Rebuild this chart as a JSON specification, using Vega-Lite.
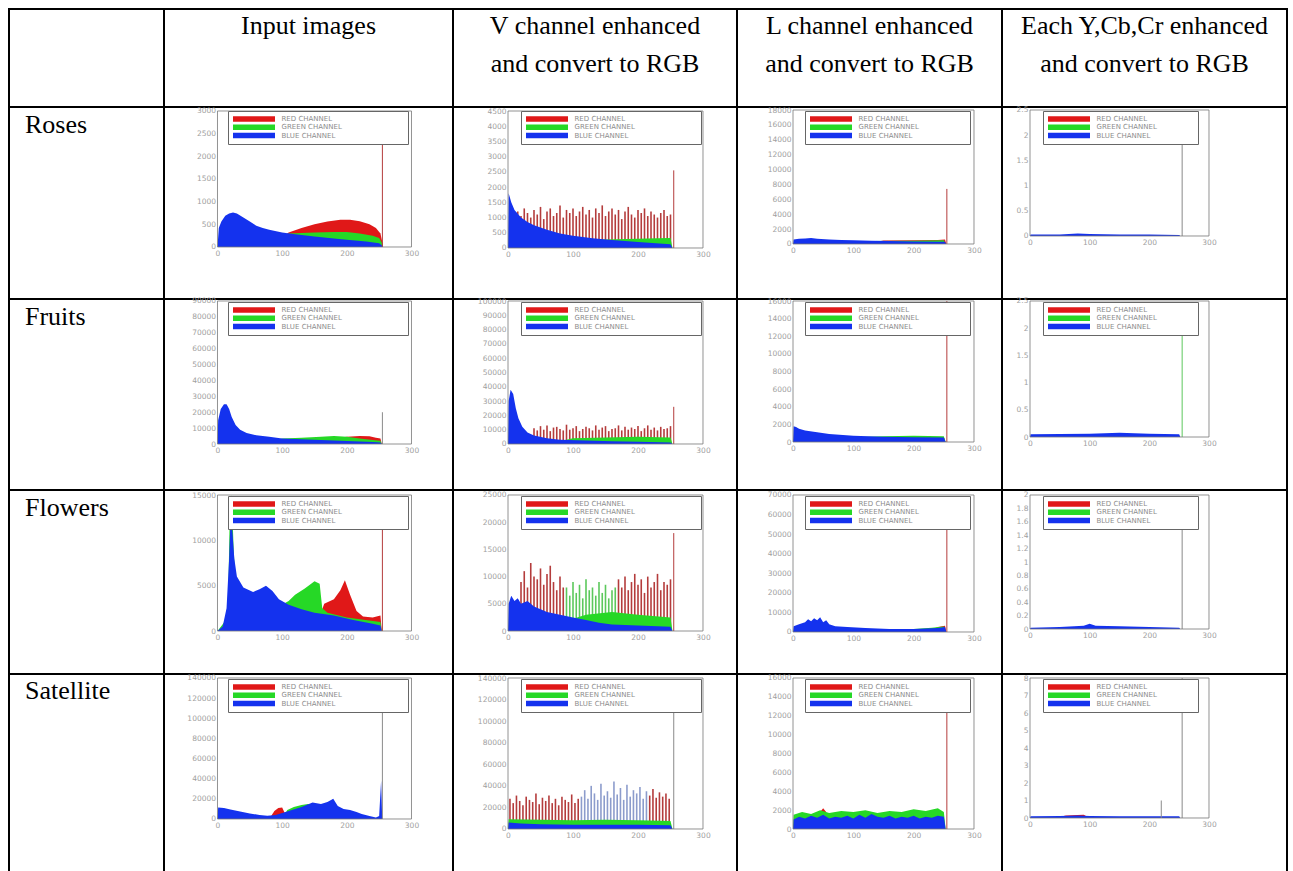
{
"$schema":"https://vega.github.io/schema/vega-lite/v6.json",
"padding":{"left":8,"top":8,"right":0,"bottom":0},
"background":"white",
"config":{
 "view":{"stroke":"black","strokeWidth":2},
 "font":"DejaVu Sans",
 "numberFormat":"d",
 "axis":{"domain":false,"ticks":false,"grid":false,"labelFontSize":7.5,"labelColor":"#a0a0a0","labelFont":"DejaVu Sans","labelPadding":2,"labelOverlap":false,"labelFlush":false},
 "legend":{"symbolType":"M-1,-0.92H13V0.92H-1Z","symbolSize":36,"symbolStrokeWidth":0,"labelFontSize":7,"labelFont":"DejaVu Sans","labelColor":"#8c8c8c","labelOffset":42,"rowPadding":0.3,"padding":4.5,"strokeColor":"#666666","fillColor":"white"}
},
"datasets":{
"r1c1":[
{"x":80,"y":0,"c":"R","t":"a"},{"x":110,"y":320,"c":"R","t":"a"},{"x":130,"y":420,"c":"R","t":"a"},{"x":150,"y":500,"c":"R","t":"a"},{"x":170,"y":560,"c":"R","t":"a"},{"x":190,"y":600,"c":"R","t":"a"},{"x":205,"y":600,"c":"R","t":"a"},{"x":220,"y":570,"c":"R","t":"a"},{"x":235,"y":500,"c":"R","t":"a"},{"x":245,"y":420,"c":"R","t":"a"},{"x":252,"y":300,"c":"R","t":"a"},{"x":255,"y":100,"c":"R","t":"a"},{"x":256,"y":0,"c":"R","t":"a"},
{"x":90,"y":0,"c":"G","t":"a"},{"x":110,"y":300,"c":"G","t":"a"},{"x":150,"y":320,"c":"G","t":"a"},{"x":180,"y":330,"c":"G","t":"a"},{"x":200,"y":330,"c":"G","t":"a"},{"x":220,"y":300,"c":"G","t":"a"},{"x":240,"y":250,"c":"G","t":"a"},{"x":250,"y":200,"c":"G","t":"a"},{"x":254,"y":100,"c":"G","t":"a"},{"x":256,"y":0,"c":"G","t":"a"},
{"x":0,"y":0,"c":"B","t":"a"},{"x":2,"y":420,"c":"B","t":"a"},{"x":6,"y":560,"c":"B","t":"a"},{"x":12,"y":690,"c":"B","t":"a"},{"x":18,"y":740,"c":"B","t":"a"},{"x":24,"y":760,"c":"B","t":"a"},{"x":30,"y":740,"c":"B","t":"a"},{"x":40,"y":650,"c":"B","t":"a"},{"x":50,"y":560,"c":"B","t":"a"},{"x":60,"y":470,"c":"B","t":"a"},{"x":70,"y":420,"c":"B","t":"a"},{"x":80,"y":380,"c":"B","t":"a"},{"x":100,"y":320,"c":"B","t":"a"},{"x":120,"y":280,"c":"B","t":"a"},{"x":150,"y":230,"c":"B","t":"a"},{"x":180,"y":190,"c":"B","t":"a"},{"x":200,"y":160,"c":"B","t":"a"},{"x":230,"y":120,"c":"B","t":"a"},{"x":250,"y":80,"c":"B","t":"a"},{"x":254,"y":40,"c":"B","t":"a"},{"x":256,"y":0,"c":"B","t":"a"},
{"x":255,"y":2800,"c":"R","t":"s"}
],
"r1c2":[
{"x":0,"y":0,"c":"B","t":"a"},{"x":1,"y":1800,"c":"B","t":"a"},{"x":5,"y":1500,"c":"B","t":"a"},{"x":10,"y":1250,"c":"B","t":"a"},{"x":20,"y":1000,"c":"B","t":"a"},{"x":30,"y":850,"c":"B","t":"a"},{"x":40,"y":750,"c":"B","t":"a"},{"x":60,"y":600,"c":"B","t":"a"},{"x":80,"y":480,"c":"B","t":"a"},{"x":100,"y":400,"c":"B","t":"a"},{"x":130,"y":320,"c":"B","t":"a"},{"x":160,"y":260,"c":"B","t":"a"},{"x":200,"y":200,"c":"B","t":"a"},{"x":250,"y":120,"c":"B","t":"a"},{"x":253,"y":0,"c":"B","t":"a"},
{"x":60,"y":0,"c":"G","t":"a"},{"x":100,"y":250,"c":"G","t":"a"},{"x":150,"y":280,"c":"G","t":"a"},{"x":200,"y":300,"c":"G","t":"a"},{"x":230,"y":320,"c":"G","t":"a"},{"x":250,"y":330,"c":"G","t":"a"},{"x":253,"y":0,"c":"G","t":"a"},
{"x":15,"y":1200,"c":"R","t":"c"},{"x":20,"y":1050,"c":"R","t":"c"},{"x":25,"y":1300,"c":"R","t":"c"},{"x":30,"y":1150,"c":"R","t":"c"},{"x":35,"y":1000,"c":"R","t":"c"},{"x":40,"y":1250,"c":"R","t":"c"},{"x":45,"y":1100,"c":"R","t":"c"},{"x":50,"y":1350,"c":"R","t":"c"},{"x":55,"y":950,"c":"R","t":"c"},{"x":60,"y":1200,"c":"R","t":"c"},{"x":65,"y":1300,"c":"R","t":"c"},{"x":70,"y":1050,"c":"R","t":"c"},{"x":75,"y":1150,"c":"R","t":"c"},{"x":80,"y":1400,"c":"R","t":"c"},{"x":85,"y":1000,"c":"R","t":"c"},{"x":90,"y":1250,"c":"R","t":"c"},{"x":95,"y":1150,"c":"R","t":"c"},{"x":100,"y":1300,"c":"R","t":"c"},{"x":105,"y":1050,"c":"R","t":"c"},{"x":110,"y":1200,"c":"R","t":"c"},{"x":115,"y":1350,"c":"R","t":"c"},{"x":120,"y":1100,"c":"R","t":"c"},{"x":125,"y":1250,"c":"R","t":"c"},{"x":130,"y":1000,"c":"R","t":"c"},{"x":135,"y":1300,"c":"R","t":"c"},{"x":140,"y":1150,"c":"R","t":"c"},{"x":145,"y":1400,"c":"R","t":"c"},{"x":150,"y":1050,"c":"R","t":"c"},{"x":155,"y":1200,"c":"R","t":"c"},{"x":160,"y":1300,"c":"R","t":"c"},{"x":165,"y":1100,"c":"R","t":"c"},{"x":170,"y":1250,"c":"R","t":"c"},{"x":175,"y":950,"c":"R","t":"c"},{"x":180,"y":1200,"c":"R","t":"c"},{"x":185,"y":1350,"c":"R","t":"c"},{"x":190,"y":1100,"c":"R","t":"c"},{"x":195,"y":1000,"c":"R","t":"c"},{"x":200,"y":1250,"c":"R","t":"c"},{"x":205,"y":1150,"c":"R","t":"c"},{"x":210,"y":1300,"c":"R","t":"c"},{"x":215,"y":1050,"c":"R","t":"c"},{"x":220,"y":1200,"c":"R","t":"c"},{"x":225,"y":1100,"c":"R","t":"c"},{"x":230,"y":1000,"c":"R","t":"c"},{"x":235,"y":1150,"c":"R","t":"c"},{"x":240,"y":1250,"c":"R","t":"c"},{"x":245,"y":1050,"c":"R","t":"c"},{"x":250,"y":1100,"c":"R","t":"c"},
{"x":255,"y":2550,"c":"R","t":"s"}
],
"r1c3":[
{"x":120,"y":0,"c":"R","t":"a"},{"x":150,"y":480,"c":"R","t":"a"},{"x":200,"y":520,"c":"R","t":"a"},{"x":240,"y":550,"c":"R","t":"a"},{"x":252,"y":600,"c":"R","t":"a"},{"x":254,"y":0,"c":"R","t":"a"},
{"x":100,"y":0,"c":"G","t":"a"},{"x":130,"y":400,"c":"G","t":"a"},{"x":200,"y":450,"c":"G","t":"a"},{"x":250,"y":500,"c":"G","t":"a"},{"x":253,"y":0,"c":"G","t":"a"},
{"x":0,"y":0,"c":"B","t":"a"},{"x":1,"y":600,"c":"B","t":"a"},{"x":10,"y":700,"c":"B","t":"a"},{"x":20,"y":750,"c":"B","t":"a"},{"x":30,"y":800,"c":"B","t":"a"},{"x":40,"y":700,"c":"B","t":"a"},{"x":60,"y":600,"c":"B","t":"a"},{"x":80,"y":550,"c":"B","t":"a"},{"x":100,"y":500,"c":"B","t":"a"},{"x":130,"y":450,"c":"B","t":"a"},{"x":160,"y":400,"c":"B","t":"a"},{"x":200,"y":350,"c":"B","t":"a"},{"x":240,"y":300,"c":"B","t":"a"},{"x":252,"y":300,"c":"B","t":"a"},{"x":254,"y":0,"c":"B","t":"a"},
{"x":255,"y":7400,"c":"R","t":"s"}
],
"r1c4":[
{"x":0,"y":0,"c":"B","t":"a"},{"x":1,"y":0.03,"c":"B","t":"a"},{"x":50,"y":0.03,"c":"B","t":"a"},{"x":80,"y":0.05,"c":"B","t":"a"},{"x":100,"y":0.04,"c":"B","t":"a"},{"x":150,"y":0.03,"c":"B","t":"a"},{"x":200,"y":0.03,"c":"B","t":"a"},{"x":250,"y":0.02,"c":"B","t":"a"},{"x":252,"y":0,"c":"B","t":"a"},
{"x":255,"y":1.85,"c":"K","t":"s"}
],
"r2c1":[
{"x":150,"y":0,"c":"R","t":"a"},{"x":180,"y":3500,"c":"R","t":"a"},{"x":200,"y":4500,"c":"R","t":"a"},{"x":220,"y":5000,"c":"R","t":"a"},{"x":235,"y":4800,"c":"R","t":"a"},{"x":245,"y":4000,"c":"R","t":"a"},{"x":252,"y":3500,"c":"R","t":"a"},{"x":254,"y":0,"c":"R","t":"a"},
{"x":60,"y":0,"c":"G","t":"a"},{"x":100,"y":3500,"c":"G","t":"a"},{"x":130,"y":4000,"c":"G","t":"a"},{"x":160,"y":4500,"c":"G","t":"a"},{"x":180,"y":5000,"c":"G","t":"a"},{"x":200,"y":4500,"c":"G","t":"a"},{"x":220,"y":3500,"c":"G","t":"a"},{"x":240,"y":2500,"c":"G","t":"a"},{"x":252,"y":2000,"c":"G","t":"a"},{"x":254,"y":0,"c":"G","t":"a"},
{"x":0,"y":0,"c":"B","t":"a"},{"x":1,"y":15000,"c":"B","t":"a"},{"x":5,"y":22000,"c":"B","t":"a"},{"x":10,"y":25000,"c":"B","t":"a"},{"x":14,"y":25000,"c":"B","t":"a"},{"x":18,"y":22000,"c":"B","t":"a"},{"x":22,"y":17000,"c":"B","t":"a"},{"x":28,"y":12000,"c":"B","t":"a"},{"x":35,"y":9000,"c":"B","t":"a"},{"x":45,"y":7000,"c":"B","t":"a"},{"x":60,"y":5500,"c":"B","t":"a"},{"x":80,"y":4500,"c":"B","t":"a"},{"x":100,"y":3500,"c":"B","t":"a"},{"x":130,"y":3000,"c":"B","t":"a"},{"x":160,"y":2500,"c":"B","t":"a"},{"x":190,"y":2000,"c":"B","t":"a"},{"x":220,"y":1500,"c":"B","t":"a"},{"x":240,"y":1200,"c":"B","t":"a"},{"x":252,"y":1000,"c":"B","t":"a"},{"x":254,"y":0,"c":"B","t":"a"},
{"x":255,"y":20000,"c":"K","t":"s"}
],
"r2c2":[
{"x":0,"y":0,"c":"B","t":"a"},{"x":1,"y":30000,"c":"B","t":"a"},{"x":4,"y":38000,"c":"B","t":"a"},{"x":8,"y":35000,"c":"B","t":"a"},{"x":12,"y":25000,"c":"B","t":"a"},{"x":16,"y":18000,"c":"B","t":"a"},{"x":22,"y":12000,"c":"B","t":"a"},{"x":30,"y":8000,"c":"B","t":"a"},{"x":40,"y":6000,"c":"B","t":"a"},{"x":60,"y":4000,"c":"B","t":"a"},{"x":80,"y":3000,"c":"B","t":"a"},{"x":120,"y":2500,"c":"B","t":"a"},{"x":160,"y":2000,"c":"B","t":"a"},{"x":200,"y":1500,"c":"B","t":"a"},{"x":250,"y":1000,"c":"B","t":"a"},{"x":253,"y":0,"c":"B","t":"a"},
{"x":60,"y":0,"c":"G","t":"a"},{"x":100,"y":4000,"c":"G","t":"a"},{"x":150,"y":4500,"c":"G","t":"a"},{"x":200,"y":5000,"c":"G","t":"a"},{"x":250,"y":4500,"c":"G","t":"a"},{"x":253,"y":0,"c":"G","t":"a"},
{"x":40,"y":11000,"c":"R","t":"c"},{"x":45,"y":9500,"c":"R","t":"c"},{"x":50,"y":12500,"c":"R","t":"c"},{"x":55,"y":10000,"c":"R","t":"c"},{"x":60,"y":13000,"c":"R","t":"c"},{"x":65,"y":9000,"c":"R","t":"c"},{"x":70,"y":11500,"c":"R","t":"c"},{"x":75,"y":12000,"c":"R","t":"c"},{"x":80,"y":10500,"c":"R","t":"c"},{"x":85,"y":9500,"c":"R","t":"c"},{"x":90,"y":13500,"c":"R","t":"c"},{"x":95,"y":10000,"c":"R","t":"c"},{"x":100,"y":11000,"c":"R","t":"c"},{"x":105,"y":12500,"c":"R","t":"c"},{"x":110,"y":9000,"c":"R","t":"c"},{"x":115,"y":10500,"c":"R","t":"c"},{"x":120,"y":12000,"c":"R","t":"c"},{"x":125,"y":11000,"c":"R","t":"c"},{"x":130,"y":9500,"c":"R","t":"c"},{"x":135,"y":13000,"c":"R","t":"c"},{"x":140,"y":10000,"c":"R","t":"c"},{"x":145,"y":11500,"c":"R","t":"c"},{"x":150,"y":12500,"c":"R","t":"c"},{"x":155,"y":9000,"c":"R","t":"c"},{"x":160,"y":10500,"c":"R","t":"c"},{"x":165,"y":11000,"c":"R","t":"c"},{"x":170,"y":13000,"c":"R","t":"c"},{"x":175,"y":9500,"c":"R","t":"c"},{"x":180,"y":12000,"c":"R","t":"c"},{"x":185,"y":10000,"c":"R","t":"c"},{"x":190,"y":11500,"c":"R","t":"c"},{"x":195,"y":10500,"c":"R","t":"c"},{"x":200,"y":12500,"c":"R","t":"c"},{"x":205,"y":9000,"c":"R","t":"c"},{"x":210,"y":11000,"c":"R","t":"c"},{"x":215,"y":13000,"c":"R","t":"c"},{"x":220,"y":10000,"c":"R","t":"c"},{"x":225,"y":11500,"c":"R","t":"c"},{"x":230,"y":9500,"c":"R","t":"c"},{"x":235,"y":12000,"c":"R","t":"c"},{"x":240,"y":10500,"c":"R","t":"c"},{"x":245,"y":11000,"c":"R","t":"c"},{"x":250,"y":12500,"c":"R","t":"c"},
{"x":255,"y":26000,"c":"R","t":"s"}
],
"r2c3":[
{"x":150,"y":0,"c":"R","t":"a"},{"x":200,"y":500,"c":"R","t":"a"},{"x":250,"y":550,"c":"R","t":"a"},{"x":253,"y":0,"c":"R","t":"a"},
{"x":60,"y":0,"c":"G","t":"a"},{"x":100,"y":550,"c":"G","t":"a"},{"x":150,"y":650,"c":"G","t":"a"},{"x":200,"y":700,"c":"G","t":"a"},{"x":250,"y":650,"c":"G","t":"a"},{"x":253,"y":0,"c":"G","t":"a"},
{"x":0,"y":0,"c":"B","t":"a"},{"x":1,"y":1800,"c":"B","t":"a"},{"x":5,"y":1700,"c":"B","t":"a"},{"x":10,"y":1500,"c":"B","t":"a"},{"x":20,"y":1300,"c":"B","t":"a"},{"x":40,"y":1100,"c":"B","t":"a"},{"x":60,"y":900,"c":"B","t":"a"},{"x":100,"y":700,"c":"B","t":"a"},{"x":150,"y":600,"c":"B","t":"a"},{"x":200,"y":550,"c":"B","t":"a"},{"x":250,"y":500,"c":"B","t":"a"},{"x":253,"y":0,"c":"B","t":"a"},
{"x":255,"y":16000,"c":"R","t":"s"}
],
"r2c4":[
{"x":0,"y":0,"c":"B","t":"a"},{"x":1,"y":0.05,"c":"B","t":"a"},{"x":100,"y":0.06,"c":"B","t":"a"},{"x":150,"y":0.08,"c":"B","t":"a"},{"x":200,"y":0.06,"c":"B","t":"a"},{"x":250,"y":0.05,"c":"B","t":"a"},{"x":252,"y":0,"c":"B","t":"a"},
{"x":255,"y":2.25,"c":"G","t":"s"}
],
"r3c1":[
{"x":150,"y":0,"c":"R","t":"a"},{"x":165,"y":3000,"c":"R","t":"a"},{"x":180,"y":3500,"c":"R","t":"a"},{"x":190,"y":4500,"c":"R","t":"a"},{"x":197,"y":5600,"c":"R","t":"a"},{"x":205,"y":4000,"c":"R","t":"a"},{"x":215,"y":2200,"c":"R","t":"a"},{"x":225,"y":1600,"c":"R","t":"a"},{"x":240,"y":1500,"c":"R","t":"a"},{"x":252,"y":1700,"c":"R","t":"a"},{"x":254,"y":0,"c":"R","t":"a"},
{"x":0,"y":0,"c":"G","t":"a"},{"x":16,"y":1500,"c":"G","t":"a"},{"x":19,"y":13000,"c":"G","t":"a"},{"x":22,"y":15000,"c":"G","t":"a"},{"x":25,"y":9000,"c":"G","t":"a"},{"x":28,"y":5000,"c":"G","t":"a"},{"x":35,"y":3000,"c":"G","t":"a"},{"x":60,"y":2500,"c":"G","t":"a"},{"x":90,"y":2500,"c":"G","t":"a"},{"x":110,"y":3300,"c":"G","t":"a"},{"x":120,"y":4000,"c":"G","t":"a"},{"x":135,"y":4700,"c":"G","t":"a"},{"x":150,"y":5500,"c":"G","t":"a"},{"x":158,"y":5200,"c":"G","t":"a"},{"x":162,"y":2500,"c":"G","t":"a"},{"x":170,"y":2000,"c":"G","t":"a"},{"x":200,"y":1500,"c":"G","t":"a"},{"x":252,"y":1000,"c":"G","t":"a"},{"x":254,"y":0,"c":"G","t":"a"},
{"x":0,"y":0,"c":"B","t":"a"},{"x":8,"y":500,"c":"B","t":"a"},{"x":14,"y":2500,"c":"B","t":"a"},{"x":18,"y":8000,"c":"B","t":"a"},{"x":20,"y":12000,"c":"B","t":"a"},{"x":23,"y":11000,"c":"B","t":"a"},{"x":26,"y":8000,"c":"B","t":"a"},{"x":30,"y":6000,"c":"B","t":"a"},{"x":40,"y":4800,"c":"B","t":"a"},{"x":55,"y":4300,"c":"B","t":"a"},{"x":65,"y":4600,"c":"B","t":"a"},{"x":75,"y":5000,"c":"B","t":"a"},{"x":85,"y":4400,"c":"B","t":"a"},{"x":95,"y":3500,"c":"B","t":"a"},{"x":110,"y":2900,"c":"B","t":"a"},{"x":130,"y":2400,"c":"B","t":"a"},{"x":150,"y":2000,"c":"B","t":"a"},{"x":180,"y":1700,"c":"B","t":"a"},{"x":210,"y":1200,"c":"B","t":"a"},{"x":240,"y":800,"c":"B","t":"a"},{"x":252,"y":600,"c":"B","t":"a"},{"x":254,"y":0,"c":"B","t":"a"},
{"x":255,"y":14000,"c":"R","t":"s"}
],
"r3c2":[
{"x":0,"y":0,"c":"B","t":"a"},{"x":1,"y":5000,"c":"B","t":"a"},{"x":5,"y":6500,"c":"B","t":"a"},{"x":10,"y":5500,"c":"B","t":"a"},{"x":15,"y":6000,"c":"B","t":"a"},{"x":20,"y":5000,"c":"B","t":"a"},{"x":30,"y":5500,"c":"B","t":"a"},{"x":40,"y":4500,"c":"B","t":"a"},{"x":50,"y":4000,"c":"B","t":"a"},{"x":60,"y":3500,"c":"B","t":"a"},{"x":80,"y":3000,"c":"B","t":"a"},{"x":100,"y":2500,"c":"B","t":"a"},{"x":120,"y":2000,"c":"B","t":"a"},{"x":140,"y":1500,"c":"B","t":"a"},{"x":160,"y":1200,"c":"B","t":"a"},{"x":200,"y":1000,"c":"B","t":"a"},{"x":250,"y":800,"c":"B","t":"a"},{"x":253,"y":0,"c":"B","t":"a"},
{"x":60,"y":0,"c":"G","t":"a"},{"x":80,"y":1500,"c":"G","t":"a"},{"x":120,"y":3000,"c":"G","t":"a"},{"x":160,"y":3500,"c":"G","t":"a"},{"x":200,"y":3000,"c":"G","t":"a"},{"x":250,"y":2500,"c":"G","t":"a"},{"x":253,"y":0,"c":"G","t":"a"},
{"x":20,"y":9000,"c":"R","t":"c"},{"x":25,"y":11000,"c":"R","t":"c"},{"x":30,"y":8000,"c":"R","t":"c"},{"x":35,"y":12500,"c":"R","t":"c"},{"x":40,"y":10000,"c":"R","t":"c"},{"x":45,"y":9500,"c":"R","t":"c"},{"x":50,"y":11500,"c":"R","t":"c"},{"x":55,"y":8500,"c":"R","t":"c"},{"x":60,"y":10500,"c":"R","t":"c"},{"x":65,"y":12000,"c":"R","t":"c"},{"x":70,"y":9000,"c":"R","t":"c"},{"x":75,"y":7500,"c":"R","t":"c"},{"x":80,"y":10000,"c":"R","t":"c"},{"x":85,"y":8000,"c":"R","t":"c"},
{"x":90,"y":8000,"c":"G","t":"c"},{"x":95,"y":6500,"c":"G","t":"c"},{"x":100,"y":9000,"c":"G","t":"c"},{"x":105,"y":7000,"c":"G","t":"c"},{"x":110,"y":8500,"c":"G","t":"c"},{"x":115,"y":6000,"c":"G","t":"c"},{"x":120,"y":9500,"c":"G","t":"c"},{"x":125,"y":7500,"c":"G","t":"c"},{"x":130,"y":8000,"c":"G","t":"c"},{"x":135,"y":6500,"c":"G","t":"c"},{"x":140,"y":9000,"c":"G","t":"c"},{"x":145,"y":7000,"c":"G","t":"c"},{"x":150,"y":8500,"c":"G","t":"c"},{"x":155,"y":6000,"c":"G","t":"c"},{"x":160,"y":7500,"c":"G","t":"c"},{"x":165,"y":8000,"c":"G","t":"c"},
{"x":170,"y":9500,"c":"R","t":"c"},{"x":175,"y":8000,"c":"R","t":"c"},{"x":180,"y":10000,"c":"R","t":"c"},{"x":185,"y":7500,"c":"R","t":"c"},{"x":190,"y":9000,"c":"R","t":"c"},{"x":195,"y":10500,"c":"R","t":"c"},{"x":200,"y":8500,"c":"R","t":"c"},{"x":205,"y":9500,"c":"R","t":"c"},{"x":210,"y":7000,"c":"R","t":"c"},{"x":215,"y":10000,"c":"R","t":"c"},{"x":220,"y":8000,"c":"R","t":"c"},{"x":225,"y":9000,"c":"R","t":"c"},{"x":230,"y":10500,"c":"R","t":"c"},{"x":235,"y":7500,"c":"R","t":"c"},{"x":240,"y":9000,"c":"R","t":"c"},{"x":245,"y":8500,"c":"R","t":"c"},{"x":250,"y":9500,"c":"R","t":"c"},
{"x":255,"y":18000,"c":"R","t":"s"}
],
"r3c3":[
{"x":220,"y":0,"c":"R","t":"a"},{"x":240,"y":2500,"c":"R","t":"a"},{"x":252,"y":3200,"c":"R","t":"a"},{"x":254,"y":0,"c":"R","t":"a"},
{"x":150,"y":0,"c":"G","t":"a"},{"x":200,"y":1500,"c":"G","t":"a"},{"x":230,"y":2200,"c":"G","t":"a"},{"x":250,"y":2800,"c":"G","t":"a"},{"x":253,"y":0,"c":"G","t":"a"},
{"x":0,"y":0,"c":"B","t":"a"},{"x":1,"y":3000,"c":"B","t":"a"},{"x":10,"y":4000,"c":"B","t":"a"},{"x":20,"y":5000,"c":"B","t":"a"},{"x":25,"y":6500,"c":"B","t":"a"},{"x":30,"y":5500,"c":"B","t":"a"},{"x":35,"y":7000,"c":"B","t":"a"},{"x":40,"y":6000,"c":"B","t":"a"},{"x":45,"y":7500,"c":"B","t":"a"},{"x":50,"y":5000,"c":"B","t":"a"},{"x":55,"y":6000,"c":"B","t":"a"},{"x":60,"y":4000,"c":"B","t":"a"},{"x":70,"y":3000,"c":"B","t":"a"},{"x":90,"y":2500,"c":"B","t":"a"},{"x":120,"y":2000,"c":"B","t":"a"},{"x":160,"y":1500,"c":"B","t":"a"},{"x":200,"y":1500,"c":"B","t":"a"},{"x":240,"y":2000,"c":"B","t":"a"},{"x":252,"y":2500,"c":"B","t":"a"},{"x":254,"y":0,"c":"B","t":"a"},
{"x":255,"y":68000,"c":"R","t":"s"}
],
"r3c4":[
{"x":0,"y":0,"c":"B","t":"a"},{"x":1,"y":0.02,"c":"B","t":"a"},{"x":50,"y":0.03,"c":"B","t":"a"},{"x":90,"y":0.05,"c":"B","t":"a"},{"x":100,"y":0.08,"c":"B","t":"a"},{"x":110,"y":0.05,"c":"B","t":"a"},{"x":150,"y":0.04,"c":"B","t":"a"},{"x":200,"y":0.03,"c":"B","t":"a"},{"x":250,"y":0.02,"c":"B","t":"a"},{"x":252,"y":0,"c":"B","t":"a"},
{"x":255,"y":1.95,"c":"K","t":"s"}
],
"r4c1":[
{"x":80,"y":0,"c":"R","t":"a"},{"x":88,"y":8000,"c":"R","t":"a"},{"x":94,"y":11000,"c":"R","t":"a"},{"x":100,"y":11500,"c":"R","t":"a"},{"x":104,"y":6000,"c":"R","t":"a"},{"x":108,"y":0,"c":"R","t":"a"},
{"x":100,"y":0,"c":"G","t":"a"},{"x":108,"y":9000,"c":"G","t":"a"},{"x":118,"y":12000,"c":"G","t":"a"},{"x":130,"y":14000,"c":"G","t":"a"},{"x":140,"y":15000,"c":"G","t":"a"},{"x":148,"y":14000,"c":"G","t":"a"},{"x":152,"y":0,"c":"G","t":"a"},
{"x":0,"y":0,"c":"B","t":"a"},{"x":1,"y":11500,"c":"B","t":"a"},{"x":10,"y":11000,"c":"B","t":"a"},{"x":20,"y":9500,"c":"B","t":"a"},{"x":35,"y":7500,"c":"B","t":"a"},{"x":50,"y":5500,"c":"B","t":"a"},{"x":65,"y":4000,"c":"B","t":"a"},{"x":77,"y":3300,"c":"B","t":"a"},{"x":90,"y":4000,"c":"B","t":"a"},{"x":100,"y":6000,"c":"B","t":"a"},{"x":115,"y":9000,"c":"B","t":"a"},{"x":130,"y":12000,"c":"B","t":"a"},{"x":147,"y":16500,"c":"B","t":"a"},{"x":160,"y":15000,"c":"B","t":"a"},{"x":170,"y":17000,"c":"B","t":"a"},{"x":179,"y":20000,"c":"B","t":"a"},{"x":186,"y":13000,"c":"B","t":"a"},{"x":195,"y":10000,"c":"B","t":"a"},{"x":205,"y":9000,"c":"B","t":"a"},{"x":215,"y":7000,"c":"B","t":"a"},{"x":223,"y":5000,"c":"B","t":"a"},{"x":235,"y":3000,"c":"B","t":"a"},{"x":245,"y":1500,"c":"B","t":"a"},{"x":250,"y":3000,"c":"B","t":"a"},{"x":253,"y":38000,"c":"B","t":"a"},{"x":254.5,"y":5000,"c":"B","t":"a"},{"x":255,"y":0,"c":"B","t":"a"},
{"x":255,"y":110000,"c":"K","t":"s"}
],
"r4c2":[
{"x":0,"y":0,"c":"G","t":"a"},{"x":1,"y":9000,"c":"G","t":"a"},{"x":50,"y":8500,"c":"G","t":"a"},{"x":100,"y":8000,"c":"G","t":"a"},{"x":150,"y":8500,"c":"G","t":"a"},{"x":200,"y":8000,"c":"G","t":"a"},{"x":250,"y":7500,"c":"G","t":"a"},{"x":253,"y":0,"c":"G","t":"a"},
{"x":0,"y":0,"c":"B","t":"a"},{"x":1,"y":6000,"c":"B","t":"a"},{"x":20,"y":5000,"c":"B","t":"a"},{"x":50,"y":4500,"c":"B","t":"a"},{"x":100,"y":4000,"c":"B","t":"a"},{"x":150,"y":4000,"c":"B","t":"a"},{"x":200,"y":4000,"c":"B","t":"a"},{"x":250,"y":3500,"c":"B","t":"a"},{"x":253,"y":0,"c":"B","t":"a"},
{"x":3,"y":28000,"c":"R","t":"c"},{"x":8,"y":24000,"c":"R","t":"c"},{"x":13,"y":31000,"c":"R","t":"c"},{"x":18,"y":26000,"c":"R","t":"c"},{"x":23,"y":22000,"c":"R","t":"c"},{"x":28,"y":30000,"c":"R","t":"c"},{"x":33,"y":27000,"c":"R","t":"c"},{"x":38,"y":25000,"c":"R","t":"c"},{"x":43,"y":33000,"c":"R","t":"c"},{"x":48,"y":23000,"c":"R","t":"c"},{"x":53,"y":29000,"c":"R","t":"c"},{"x":58,"y":26000,"c":"R","t":"c"},{"x":63,"y":31000,"c":"R","t":"c"},{"x":68,"y":24000,"c":"R","t":"c"},{"x":73,"y":28000,"c":"R","t":"c"},{"x":78,"y":22000,"c":"R","t":"c"},{"x":83,"y":30000,"c":"R","t":"c"},{"x":88,"y":27000,"c":"R","t":"c"},{"x":93,"y":25000,"c":"R","t":"c"},{"x":98,"y":32000,"c":"R","t":"c"},{"x":103,"y":24000,"c":"R","t":"c"},{"x":108,"y":28000,"c":"R","t":"c"},
{"x":113,"y":30000,"c":"B","t":"c"},{"x":118,"y":36000,"c":"B","t":"c"},{"x":123,"y":28000,"c":"B","t":"c"},{"x":128,"y":40000,"c":"B","t":"c"},{"x":133,"y":33000,"c":"B","t":"c"},{"x":138,"y":27000,"c":"B","t":"c"},{"x":143,"y":42000,"c":"B","t":"c"},{"x":148,"y":31000,"c":"B","t":"c"},{"x":153,"y":35000,"c":"B","t":"c"},{"x":158,"y":29000,"c":"B","t":"c"},{"x":163,"y":44000,"c":"B","t":"c"},{"x":168,"y":32000,"c":"B","t":"c"},{"x":173,"y":38000,"c":"B","t":"c"},{"x":178,"y":27000,"c":"B","t":"c"},{"x":183,"y":41000,"c":"B","t":"c"},{"x":188,"y":30000,"c":"B","t":"c"},{"x":193,"y":36000,"c":"B","t":"c"},{"x":198,"y":33000,"c":"B","t":"c"},{"x":203,"y":39000,"c":"B","t":"c"},{"x":208,"y":28000,"c":"B","t":"c"},{"x":213,"y":35000,"c":"B","t":"c"},
{"x":218,"y":31000,"c":"R","t":"c"},{"x":223,"y":37000,"c":"R","t":"c"},{"x":228,"y":29000,"c":"R","t":"c"},{"x":233,"y":34000,"c":"R","t":"c"},{"x":238,"y":30000,"c":"R","t":"c"},{"x":243,"y":33000,"c":"R","t":"c"},{"x":248,"y":28000,"c":"R","t":"c"},
{"x":255,"y":130000,"c":"K","t":"s"}
],
"r4c3":[
{"x":40,"y":0,"c":"R","t":"a"},{"x":45,"y":1800,"c":"R","t":"a"},{"x":50,"y":2200,"c":"R","t":"a"},{"x":55,"y":1800,"c":"R","t":"a"},{"x":60,"y":0,"c":"R","t":"a"},
{"x":0,"y":0,"c":"G","t":"a"},{"x":1,"y":1500,"c":"G","t":"a"},{"x":15,"y":1800,"c":"G","t":"a"},{"x":30,"y":1600,"c":"G","t":"a"},{"x":45,"y":2000,"c":"G","t":"a"},{"x":60,"y":1700,"c":"G","t":"a"},{"x":80,"y":1900,"c":"G","t":"a"},{"x":100,"y":1800,"c":"G","t":"a"},{"x":120,"y":2000,"c":"G","t":"a"},{"x":140,"y":1700,"c":"G","t":"a"},{"x":160,"y":1900,"c":"G","t":"a"},{"x":180,"y":1800,"c":"G","t":"a"},{"x":200,"y":2100,"c":"G","t":"a"},{"x":220,"y":1900,"c":"G","t":"a"},{"x":240,"y":2200,"c":"G","t":"a"},{"x":250,"y":1800,"c":"G","t":"a"},{"x":253,"y":0,"c":"G","t":"a"},
{"x":0,"y":0,"c":"B","t":"a"},{"x":1,"y":1000,"c":"B","t":"a"},{"x":10,"y":1300,"c":"B","t":"a"},{"x":20,"y":1100,"c":"B","t":"a"},{"x":30,"y":1400,"c":"B","t":"a"},{"x":40,"y":1200,"c":"B","t":"a"},{"x":50,"y":1500,"c":"B","t":"a"},{"x":60,"y":1100,"c":"B","t":"a"},{"x":70,"y":1300,"c":"B","t":"a"},{"x":80,"y":1200,"c":"B","t":"a"},{"x":90,"y":1400,"c":"B","t":"a"},{"x":100,"y":1100,"c":"B","t":"a"},{"x":110,"y":1500,"c":"B","t":"a"},{"x":120,"y":1200,"c":"B","t":"a"},{"x":130,"y":1600,"c":"B","t":"a"},{"x":140,"y":1300,"c":"B","t":"a"},{"x":150,"y":1200,"c":"B","t":"a"},{"x":160,"y":1400,"c":"B","t":"a"},{"x":170,"y":1100,"c":"B","t":"a"},{"x":180,"y":1300,"c":"B","t":"a"},{"x":190,"y":1200,"c":"B","t":"a"},{"x":200,"y":1400,"c":"B","t":"a"},{"x":210,"y":1100,"c":"B","t":"a"},{"x":220,"y":1300,"c":"B","t":"a"},{"x":230,"y":1200,"c":"B","t":"a"},{"x":240,"y":1400,"c":"B","t":"a"},{"x":250,"y":1300,"c":"B","t":"a"},{"x":253,"y":0,"c":"B","t":"a"},
{"x":255,"y":13000,"c":"R","t":"s"}
],
"r4c4":[
{"x":40,"y":0,"c":"R","t":"a"},{"x":60,"y":0.15,"c":"R","t":"a"},{"x":90,"y":0.18,"c":"R","t":"a"},{"x":100,"y":0,"c":"R","t":"a"},
{"x":0,"y":0,"c":"B","t":"a"},{"x":1,"y":0.1,"c":"B","t":"a"},{"x":50,"y":0.12,"c":"B","t":"a"},{"x":80,"y":0.15,"c":"B","t":"a"},{"x":100,"y":0.12,"c":"B","t":"a"},{"x":150,"y":0.1,"c":"B","t":"a"},{"x":200,"y":0.1,"c":"B","t":"a"},{"x":250,"y":0.1,"c":"B","t":"a"},{"x":252,"y":0,"c":"B","t":"a"},
{"x":220,"y":1.0,"c":"K","t":"s"},{"x":255,"y":8,"c":"K","t":"s"}
]
},
"concat":[
 {"width":155,"height":98,"data":{"values":[{"t":" "}]},"mark":{"type":"text","font":"Liberation Serif","fontSize":26,"baseline":"alphabetic","dy":25.3,"color":"black"},"encoding":{"text":{"field":"t"},"x":{"datum":0.5,"type":"quantitative","scale":{"domain":[0,1]},"axis":null},"y":{"datum":1,"type":"quantitative","scale":{"domain":[0,1]},"axis":null}}},
 {"width":289,"height":98,"data":{"values":[{"t":"Input images"}]},"mark":{"type":"text","font":"Liberation Serif","fontSize":26,"baseline":"alphabetic","lineBreak":"\n","lineHeight":38,"dy":25.3,"color":"black"},"encoding":{"text":{"field":"t"},"x":{"datum":0.5,"type":"quantitative","scale":{"domain":[0,1]},"axis":null},"y":{"datum":1,"type":"quantitative","scale":{"domain":[0,1]},"axis":null}}},
 {"width":284,"height":98,"data":{"values":[{"t":"V channel enhanced\nand convert to RGB"}]},"mark":{"type":"text","font":"Liberation Serif","fontSize":26,"baseline":"alphabetic","lineBreak":"\n","lineHeight":38,"dy":25.3,"color":"black"},"encoding":{"text":{"field":"t"},"x":{"datum":0.5,"type":"quantitative","scale":{"domain":[0,1]},"axis":null},"y":{"datum":1,"type":"quantitative","scale":{"domain":[0,1]},"axis":null}}},
 {"width":265,"height":98,"data":{"values":[{"t":"L channel enhanced\nand convert to RGB"}]},"mark":{"type":"text","font":"Liberation Serif","fontSize":26,"baseline":"alphabetic","lineBreak":"\n","lineHeight":38,"dy":25.3,"color":"black"},"encoding":{"text":{"field":"t"},"x":{"datum":0.5,"type":"quantitative","scale":{"domain":[0,1]},"axis":null},"y":{"datum":1,"type":"quantitative","scale":{"domain":[0,1]},"axis":null}}},
 {"width":285,"height":98,"data":{"values":[{"t":"Each Y,Cb,Cr enhanced\nand convert to RGB"}]},"mark":{"type":"text","font":"Liberation Serif","fontSize":26,"baseline":"alphabetic","lineBreak":"\n","lineHeight":38,"dy":25.3,"color":"black"},"encoding":{"text":{"field":"t"},"x":{"datum":0.5,"type":"quantitative","scale":{"domain":[0,1]},"axis":null},"y":{"datum":1,"type":"quantitative","scale":{"domain":[0,1]},"axis":null}}},

 {"width":155,"height":192,"data":{"values":[{"t":"Roses"}]},"mark":{"type":"text","font":"Liberation Serif","fontSize":26,"align":"left","baseline":"alphabetic","dx":16,"dy":26,"color":"black"},"encoding":{"text":{"field":"t"},"x":{"datum":0,"type":"quantitative","scale":{"domain":[0,1]},"axis":null},"y":{"datum":1,"type":"quantitative","scale":{"domain":[0,1]},"axis":null}}},
 {"width":289,"height":192,"data":{"name":"r1c1"},"layer":[
  {"transform":[{"filter":"datum.t=='a'&&datum.c=='R'"}],"mark":"area","encoding":{"x":{"field":"x","type":"quantitative","title":null,"scale":{"domain":[-82.73,364.18],"nice":false,"zero":false},"axis":{"values":[0,100,200,300],"offset":-52}},"y":{"field":"y","type":"quantitative","title":null,"scale":{"domain":[-1147.1,3088.2],"nice":false,"zero":false},"axis":{"values":[0,500,1000,1500,2000,2500,3000],"tickCount":50,"offset":-53.5}},"y2":{"datum":0},"color":{"field":"c","type":"nominal","scale":{"domain":["R","G","B"],"range":["#e01818","#26d826","#1432ee"]},"legend":{"orient":"none","legendX":64,"legendY":4,"title":null,"labelExpr":"(datum.label=='R'?'RED CHANNEL':datum.label=='G'?'GREEN CHANNEL':'BLUE CHANNEL')+'\u2800\u2800\u2800\u2800\u2800\u2800\u2800\u2800\u2800\u2800\u2800\u2800'"}}}},
  {"transform":[{"filter":"datum.t=='a'&&datum.c=='G'"}],"mark":"area","encoding":{"x":{"field":"x","type":"quantitative","title":null},"y":{"field":"y","type":"quantitative","title":null},"y2":{"datum":0},"color":{"field":"c","type":"nominal","legend":null}}},
  {"transform":[{"filter":"datum.t=='a'&&datum.c=='B'"}],"mark":"area","encoding":{"x":{"field":"x","type":"quantitative","title":null},"y":{"field":"y","type":"quantitative","title":null},"y2":{"datum":0},"color":{"field":"c","type":"nominal","legend":null}}},
  {"transform":[{"filter":"datum.t=='s'"}],"mark":{"type":"rule","strokeWidth":1},"encoding":{"x":{"field":"x","type":"quantitative","title":null},"y":{"field":"y","type":"quantitative","title":null},"y2":{"datum":0},"stroke":{"field":"c","type":"nominal","scale":{"domain":["R","G","B","K"],"range":["#b43c3c","#5cc85c","#8c9ccc","#8a8a8a"]},"legend":null}}},
  {"data":{"values":[{}]},"mark":{"type":"rect","fill":"transparent","stroke":"#777777","strokeWidth":0.8},"encoding":{"x":{"datum":0},"x2":{"datum":300},"y":{"datum":0},"y2":{"datum":3000}}}
 ]},
 {"width":284,"height":192,"data":{"name":"r1c2"},"layer":[
  {"transform":[{"filter":"datum.t=='a'&&datum.c=='R'"}],"mark":"area","encoding":{"x":{"field":"x","type":"quantitative","title":null,"scale":{"domain":[-84.62,352.31],"nice":false,"zero":false},"axis":{"values":[0,100,200,300],"offset":-51}},"y":{"field":"y","type":"quantitative","title":null,"scale":{"domain":[-1675.2,4631.4],"nice":false,"zero":false},"axis":{"values":[0,500,1000,1500,2000,2500,3000,3500,4000,4500],"tickCount":50,"offset":-55}},"y2":{"datum":0},"color":{"field":"c","type":"nominal","scale":{"domain":["R","G","B"],"range":["#e01818","#26d826","#1432ee"]},"legend":{"orient":"none","legendX":68,"legendY":4,"title":null,"labelExpr":"(datum.label=='R'?'RED CHANNEL':datum.label=='G'?'GREEN CHANNEL':'BLUE CHANNEL')+'\u2800\u2800\u2800\u2800\u2800\u2800\u2800\u2800\u2800\u2800\u2800\u2800'"}}}},
  {"transform":[{"filter":"datum.t=='c'"}],"mark":{"type":"rule","strokeWidth":1.6},"encoding":{"x":{"field":"x","type":"quantitative","title":null},"y":{"field":"y","type":"quantitative","title":null},"y2":{"datum":0},"stroke":{"field":"c","type":"nominal","scale":{"domain":["R","G","B","K"],"range":["#b43c3c","#5cc85c","#8c9ccc","#8a8a8a"]},"legend":null}}},
  {"transform":[{"filter":"datum.t=='a'&&datum.c=='G'"}],"mark":"area","encoding":{"x":{"field":"x","type":"quantitative","title":null},"y":{"field":"y","type":"quantitative","title":null},"y2":{"datum":0},"color":{"field":"c","type":"nominal","legend":null}}},
  {"transform":[{"filter":"datum.t=='a'&&datum.c=='B'"}],"mark":"area","encoding":{"x":{"field":"x","type":"quantitative","title":null},"y":{"field":"y","type":"quantitative","title":null},"y2":{"datum":0},"color":{"field":"c","type":"nominal","legend":null}}},
  {"transform":[{"filter":"datum.t=='s'"}],"mark":{"type":"rule","strokeWidth":1},"encoding":{"x":{"field":"x","type":"quantitative","title":null},"y":{"field":"y","type":"quantitative","title":null},"y2":{"datum":0},"stroke":{"field":"c","type":"nominal","scale":{"domain":["R","G","B","K"],"range":["#b43c3c","#5cc85c","#8c9ccc","#8a8a8a"]},"legend":null}}},
  {"data":{"values":[{}]},"mark":{"type":"rect","fill":"transparent","stroke":"#777777","strokeWidth":0.8},"encoding":{"x":{"datum":0},"x2":{"datum":300},"y":{"datum":0},"y2":{"datum":4500}}}
 ]},
 {"width":265,"height":192,"data":{"name":"r1c3"},"layer":[
  {"transform":[{"filter":"datum.t=='a'&&datum.c=='R'"}],"mark":"area","encoding":{"x":{"field":"x","type":"quantitative","title":null,"scale":{"domain":[-92.82,346.41],"nice":false,"zero":false},"axis":{"values":[0,100,200,300],"offset":-55}},"y":{"field":"y","type":"quantitative","title":null,"scale":{"domain":[-7388.1,18403],"nice":false,"zero":false},"axis":{"values":[0,2000,4000,6000,8000,10000,12000,14000,16000,18000],"tickCount":50,"offset":-56}},"y2":{"datum":0},"color":{"field":"c","type":"nominal","scale":{"domain":["R","G","B"],"range":["#e01818","#26d826","#1432ee"]},"legend":{"orient":"none","legendX":68,"legendY":4,"title":null,"labelExpr":"(datum.label=='R'?'RED CHANNEL':datum.label=='G'?'GREEN CHANNEL':'BLUE CHANNEL')+'\u2800\u2800\u2800\u2800\u2800\u2800\u2800\u2800\u2800'"}}}},
  {"transform":[{"filter":"datum.t=='a'&&datum.c=='G'"}],"mark":"area","encoding":{"x":{"field":"x","type":"quantitative","title":null},"y":{"field":"y","type":"quantitative","title":null},"y2":{"datum":0},"color":{"field":"c","type":"nominal","legend":null}}},
  {"transform":[{"filter":"datum.t=='a'&&datum.c=='B'"}],"mark":"area","encoding":{"x":{"field":"x","type":"quantitative","title":null},"y":{"field":"y","type":"quantitative","title":null},"y2":{"datum":0},"color":{"field":"c","type":"nominal","legend":null}}},
  {"transform":[{"filter":"datum.t=='s'"}],"mark":{"type":"rule","strokeWidth":1},"encoding":{"x":{"field":"x","type":"quantitative","title":null},"y":{"field":"y","type":"quantitative","title":null},"y2":{"datum":0},"stroke":{"field":"c","type":"nominal","scale":{"domain":["R","G","B","K"],"range":["#b43c3c","#5cc85c","#8c9ccc","#8a8a8a"]},"legend":null}}},
  {"data":{"values":[{}]},"mark":{"type":"rect","fill":"transparent","stroke":"#777777","strokeWidth":0.8},"encoding":{"x":{"datum":0},"x2":{"datum":300},"y":{"datum":0},"y2":{"datum":18000}}}
 ]},
 {"width":285,"height":192,"data":{"name":"r1c4"},"layer":[
  {"transform":[{"filter":"datum.t=='a'&&datum.c=='R'"}],"mark":"area","encoding":{"x":{"field":"x","type":"quantitative","title":null,"scale":{"domain":[-46.93,430.73],"nice":false,"zero":false},"axis":{"values":[0,100,200,300],"offset":-63}},"y":{"field":"y","type":"quantitative","title":null,"scale":{"domain":[-1.25,2.5595],"nice":false,"zero":false},"axis":{"values":[0,0.5,1,1.5,2,2.5],"tickCount":50,"tickMinStep":0.01,"offset":-28,"labelExpr":"format(datum.value,'.1~f')"}},"y2":{"datum":0},"color":{"field":"c","type":"nominal","scale":{"domain":["R","G","B"],"range":["#e01818","#26d826","#1432ee"]},"legend":{"orient":"none","legendX":41,"legendY":4,"title":null,"labelExpr":"(datum.label=='R'?'RED CHANNEL':datum.label=='G'?'GREEN CHANNEL':'BLUE CHANNEL')+'\u2800\u2800\u2800\u2800\u2800\u2800\u2800'"}}}},
  {"transform":[{"filter":"datum.t=='a'&&datum.c=='G'"}],"mark":"area","encoding":{"x":{"field":"x","type":"quantitative","title":null},"y":{"field":"y","type":"quantitative","title":null},"y2":{"datum":0},"color":{"field":"c","type":"nominal","legend":null}}},
  {"transform":[{"filter":"datum.t=='a'&&datum.c=='B'"}],"mark":"area","encoding":{"x":{"field":"x","type":"quantitative","title":null},"y":{"field":"y","type":"quantitative","title":null},"y2":{"datum":0},"color":{"field":"c","type":"nominal","legend":null}}},
  {"transform":[{"filter":"datum.t=='s'"}],"mark":{"type":"rule","strokeWidth":1},"encoding":{"x":{"field":"x","type":"quantitative","title":null},"y":{"field":"y","type":"quantitative","title":null},"y2":{"datum":0},"stroke":{"field":"c","type":"nominal","scale":{"domain":["R","G","B","K"],"range":["#b43c3c","#5cc85c","#8c9ccc","#8a8a8a"]},"legend":null}}},
  {"data":{"values":[{}]},"mark":{"type":"rect","fill":"transparent","stroke":"#777777","strokeWidth":0.8},"encoding":{"x":{"datum":0},"x2":{"datum":300},"y":{"datum":0},"y2":{"datum":2.5}}}
 ]},

 {"width":155,"height":191,"data":{"values":[{"t":"Fruits"}]},"mark":{"type":"text","font":"Liberation Serif","fontSize":26,"align":"left","baseline":"alphabetic","dx":16,"dy":26,"color":"black"},"encoding":{"text":{"field":"t"},"x":{"datum":0,"type":"quantitative","scale":{"domain":[0,1]},"axis":null},"y":{"datum":1,"type":"quantitative","scale":{"domain":[0,1]},"axis":null}}},
 {"width":289,"height":191,"data":{"name":"r2c1"},"layer":[
  {"transform":[{"filter":"datum.t=='a'&&datum.c=='R'"}],"mark":"area","encoding":{"x":{"field":"x","type":"quantitative","title":null,"scale":{"domain":[-82.73,364.18],"nice":false,"zero":false},"axis":{"values":[0,100,200,300],"offset":-46}},"y":{"field":"y","type":"quantitative","title":null,"scale":{"domain":[-28951,91258.7],"nice":false,"zero":false},"axis":{"values":[0,10000,20000,30000,40000,50000,60000,70000,80000,90000],"tickCount":50,"offset":-53.5}},"y2":{"datum":0},"color":{"field":"c","type":"nominal","scale":{"domain":["R","G","B"],"range":["#e01818","#26d826","#1432ee"]},"legend":{"orient":"none","legendX":64,"legendY":3,"title":null,"labelExpr":"(datum.label=='R'?'RED CHANNEL':datum.label=='G'?'GREEN CHANNEL':'BLUE CHANNEL')+'\u2800\u2800\u2800\u2800\u2800\u2800\u2800\u2800\u2800\u2800\u2800\u2800'"}}}},
  {"transform":[{"filter":"datum.t=='a'&&datum.c=='G'"}],"mark":"area","encoding":{"x":{"field":"x","type":"quantitative","title":null},"y":{"field":"y","type":"quantitative","title":null},"y2":{"datum":0},"color":{"field":"c","type":"nominal","legend":null}}},
  {"transform":[{"filter":"datum.t=='a'&&datum.c=='B'"}],"mark":"area","encoding":{"x":{"field":"x","type":"quantitative","title":null},"y":{"field":"y","type":"quantitative","title":null},"y2":{"datum":0},"color":{"field":"c","type":"nominal","legend":null}}},
  {"transform":[{"filter":"datum.t=='s'"}],"mark":{"type":"rule","strokeWidth":1},"encoding":{"x":{"field":"x","type":"quantitative","title":null},"y":{"field":"y","type":"quantitative","title":null},"y2":{"datum":0},"stroke":{"field":"c","type":"nominal","scale":{"domain":["R","G","B","K"],"range":["#b43c3c","#5cc85c","#8c9ccc","#8a8a8a"]},"legend":null}}},
  {"data":{"values":[{}]},"mark":{"type":"rect","fill":"transparent","stroke":"#777777","strokeWidth":0.8},"encoding":{"x":{"datum":0},"x2":{"datum":300},"y":{"datum":0},"y2":{"datum":90000}}}
 ]},
 {"width":284,"height":191,"data":{"name":"r2c2"},"layer":[
  {"transform":[{"filter":"datum.t=='a'&&datum.c=='R'"}],"mark":"area","encoding":{"x":{"field":"x","type":"quantitative","title":null,"scale":{"domain":[-84.62,352.31],"nice":false,"zero":false},"axis":{"values":[0,100,200,300],"offset":-46}},"y":{"field":"y","type":"quantitative","title":null,"scale":{"domain":[-32168,101398.6],"nice":false,"zero":false},"axis":{"values":[0,10000,20000,30000,40000,50000,60000,70000,80000,90000,100000],"tickCount":50,"offset":-55}},"y2":{"datum":0},"color":{"field":"c","type":"nominal","scale":{"domain":["R","G","B"],"range":["#e01818","#26d826","#1432ee"]},"legend":{"orient":"none","legendX":68,"legendY":3,"title":null,"labelExpr":"(datum.label=='R'?'RED CHANNEL':datum.label=='G'?'GREEN CHANNEL':'BLUE CHANNEL')+'\u2800\u2800\u2800\u2800\u2800\u2800\u2800\u2800\u2800\u2800\u2800\u2800'"}}}},
  {"transform":[{"filter":"datum.t=='c'"}],"mark":{"type":"rule","strokeWidth":1.6},"encoding":{"x":{"field":"x","type":"quantitative","title":null},"y":{"field":"y","type":"quantitative","title":null},"y2":{"datum":0},"stroke":{"field":"c","type":"nominal","scale":{"domain":["R","G","B","K"],"range":["#b43c3c","#5cc85c","#8c9ccc","#8a8a8a"]},"legend":null}}},
  {"transform":[{"filter":"datum.t=='a'&&datum.c=='G'"}],"mark":"area","encoding":{"x":{"field":"x","type":"quantitative","title":null},"y":{"field":"y","type":"quantitative","title":null},"y2":{"datum":0},"color":{"field":"c","type":"nominal","legend":null}}},
  {"transform":[{"filter":"datum.t=='a'&&datum.c=='B'"}],"mark":"area","encoding":{"x":{"field":"x","type":"quantitative","title":null},"y":{"field":"y","type":"quantitative","title":null},"y2":{"datum":0},"color":{"field":"c","type":"nominal","legend":null}}},
  {"transform":[{"filter":"datum.t=='s'"}],"mark":{"type":"rule","strokeWidth":1},"encoding":{"x":{"field":"x","type":"quantitative","title":null},"y":{"field":"y","type":"quantitative","title":null},"y2":{"datum":0},"stroke":{"field":"c","type":"nominal","scale":{"domain":["R","G","B","K"],"range":["#b43c3c","#5cc85c","#8c9ccc","#8a8a8a"]},"legend":null}}},
  {"data":{"values":[{}]},"mark":{"type":"rect","fill":"transparent","stroke":"#777777","strokeWidth":0.8},"encoding":{"x":{"datum":0},"x2":{"datum":300},"y":{"datum":0},"y2":{"datum":100000}}}
 ]},
 {"width":265,"height":191,"data":{"name":"r2c3"},"layer":[
  {"transform":[{"filter":"datum.t=='a'&&datum.c=='R'"}],"mark":"area","encoding":{"x":{"field":"x","type":"quantitative","title":null,"scale":{"domain":[-92.82,346.41],"nice":false,"zero":false},"axis":{"values":[0,100,200,300],"offset":-48}},"y":{"field":"y","type":"quantitative","title":null,"scale":{"domain":[-5446.8,16226.95],"nice":false,"zero":false},"axis":{"values":[0,2000,4000,6000,8000,10000,12000,14000,16000],"tickCount":50,"offset":-56}},"y2":{"datum":0},"color":{"field":"c","type":"nominal","scale":{"domain":["R","G","B"],"range":["#e01818","#26d826","#1432ee"]},"legend":{"orient":"none","legendX":68,"legendY":3,"title":null,"labelExpr":"(datum.label=='R'?'RED CHANNEL':datum.label=='G'?'GREEN CHANNEL':'BLUE CHANNEL')+'\u2800\u2800\u2800\u2800\u2800\u2800\u2800\u2800\u2800'"}}}},
  {"transform":[{"filter":"datum.t=='a'&&datum.c=='G'"}],"mark":"area","encoding":{"x":{"field":"x","type":"quantitative","title":null},"y":{"field":"y","type":"quantitative","title":null},"y2":{"datum":0},"color":{"field":"c","type":"nominal","legend":null}}},
  {"transform":[{"filter":"datum.t=='a'&&datum.c=='B'"}],"mark":"area","encoding":{"x":{"field":"x","type":"quantitative","title":null},"y":{"field":"y","type":"quantitative","title":null},"y2":{"datum":0},"color":{"field":"c","type":"nominal","legend":null}}},
  {"transform":[{"filter":"datum.t=='s'"}],"mark":{"type":"rule","strokeWidth":1},"encoding":{"x":{"field":"x","type":"quantitative","title":null},"y":{"field":"y","type":"quantitative","title":null},"y2":{"datum":0},"stroke":{"field":"c","type":"nominal","scale":{"domain":["R","G","B","K"],"range":["#b43c3c","#5cc85c","#8c9ccc","#8a8a8a"]},"legend":null}}},
  {"data":{"values":[{}]},"mark":{"type":"rect","fill":"transparent","stroke":"#777777","strokeWidth":0.8},"encoding":{"x":{"datum":0},"x2":{"datum":300},"y":{"datum":0},"y2":{"datum":16000}}}
 ]},
 {"width":285,"height":191,"data":{"name":"r2c4"},"layer":[
  {"transform":[{"filter":"datum.t=='a'&&datum.c=='R'"}],"mark":"area","encoding":{"x":{"field":"x","type":"quantitative","title":null,"scale":{"domain":[-46.93,430.73],"nice":false,"zero":false},"axis":{"values":[0,100,200,300],"offset":-53}},"y":{"field":"y","type":"quantitative","title":null,"scale":{"domain":[-0.97426,2.53676],"nice":false,"zero":false},"axis":{"values":[0,0.5,1,1.5,2,2.5],"tickCount":50,"tickMinStep":0.01,"offset":-28,"labelExpr":"format(datum.value,'.1~f')"}},"y2":{"datum":0},"color":{"field":"c","type":"nominal","scale":{"domain":["R","G","B"],"range":["#e01818","#26d826","#1432ee"]},"legend":{"orient":"none","legendX":41,"legendY":3,"title":null,"labelExpr":"(datum.label=='R'?'RED CHANNEL':datum.label=='G'?'GREEN CHANNEL':'BLUE CHANNEL')+'\u2800\u2800\u2800\u2800\u2800\u2800\u2800'"}}}},
  {"transform":[{"filter":"datum.t=='a'&&datum.c=='G'"}],"mark":"area","encoding":{"x":{"field":"x","type":"quantitative","title":null},"y":{"field":"y","type":"quantitative","title":null},"y2":{"datum":0},"color":{"field":"c","type":"nominal","legend":null}}},
  {"transform":[{"filter":"datum.t=='a'&&datum.c=='B'"}],"mark":"area","encoding":{"x":{"field":"x","type":"quantitative","title":null},"y":{"field":"y","type":"quantitative","title":null},"y2":{"datum":0},"color":{"field":"c","type":"nominal","legend":null}}},
  {"transform":[{"filter":"datum.t=='s'"}],"mark":{"type":"rule","strokeWidth":1},"encoding":{"x":{"field":"x","type":"quantitative","title":null},"y":{"field":"y","type":"quantitative","title":null},"y2":{"datum":0},"stroke":{"field":"c","type":"nominal","scale":{"domain":["R","G","B","K"],"range":["#b43c3c","#5cc85c","#8c9ccc","#8a8a8a"]},"legend":null}}},
  {"data":{"values":[{}]},"mark":{"type":"rect","fill":"transparent","stroke":"#777777","strokeWidth":0.8},"encoding":{"x":{"datum":0},"x2":{"datum":300},"y":{"datum":0},"y2":{"datum":2.5}}}
 ]},

 {"width":155,"height":184,"data":{"values":[{"t":"Flowers"}]},"mark":{"type":"text","font":"Liberation Serif","fontSize":26,"align":"left","baseline":"alphabetic","dx":16,"dy":26,"color":"black"},"encoding":{"text":{"field":"t"},"x":{"datum":0,"type":"quantitative","scale":{"domain":[0,1]},"axis":null},"y":{"datum":1,"type":"quantitative","scale":{"domain":[0,1]},"axis":null}}},
 {"width":289,"height":184,"data":{"name":"r3c1"},"layer":[
  {"transform":[{"filter":"datum.t=='a'&&datum.c=='R'"}],"mark":"area","encoding":{"x":{"field":"x","type":"quantitative","title":null,"scale":{"domain":[-82.73,364.18],"nice":false,"zero":false},"axis":{"values":[0,100,200,300],"offset":-43}},"y":{"field":"y","type":"quantitative","title":null,"scale":{"domain":[-4742.6,15551.5],"nice":false,"zero":false},"axis":{"values":[0,5000,10000,15000],"tickCount":50,"offset":-53.5}},"y2":{"datum":0},"color":{"field":"c","type":"nominal","scale":{"domain":["R","G","B"],"range":["#e01818","#26d826","#1432ee"]},"legend":{"orient":"none","legendX":64,"legendY":6,"title":null,"labelExpr":"(datum.label=='R'?'RED CHANNEL':datum.label=='G'?'GREEN CHANNEL':'BLUE CHANNEL')+'\u2800\u2800\u2800\u2800\u2800\u2800\u2800\u2800\u2800\u2800\u2800\u2800'"}}}},
  {"transform":[{"filter":"datum.t=='a'&&datum.c=='G'"}],"mark":"area","encoding":{"x":{"field":"x","type":"quantitative","title":null},"y":{"field":"y","type":"quantitative","title":null},"y2":{"datum":0},"color":{"field":"c","type":"nominal","legend":null}}},
  {"transform":[{"filter":"datum.t=='a'&&datum.c=='B'"}],"mark":"area","encoding":{"x":{"field":"x","type":"quantitative","title":null},"y":{"field":"y","type":"quantitative","title":null},"y2":{"datum":0},"color":{"field":"c","type":"nominal","legend":null}}},
  {"transform":[{"filter":"datum.t=='s'"}],"mark":{"type":"rule","strokeWidth":1},"encoding":{"x":{"field":"x","type":"quantitative","title":null},"y":{"field":"y","type":"quantitative","title":null},"y2":{"datum":0},"stroke":{"field":"c","type":"nominal","scale":{"domain":["R","G","B","K"],"range":["#b43c3c","#5cc85c","#8c9ccc","#8a8a8a"]},"legend":null}}},
  {"data":{"values":[{}]},"mark":{"type":"rect","fill":"transparent","stroke":"#777777","strokeWidth":0.8},"encoding":{"x":{"datum":0},"x2":{"datum":300},"y":{"datum":0},"y2":{"datum":15000}}}
 ]},
 {"width":284,"height":184,"data":{"name":"r3c2"},"layer":[
  {"transform":[{"filter":"datum.t=='a'&&datum.c=='R'"}],"mark":"area","encoding":{"x":{"field":"x","type":"quantitative","title":null,"scale":{"domain":[-84.62,352.31],"nice":false,"zero":false},"axis":{"values":[0,100,200,300],"offset":-43}},"y":{"field":"y","type":"quantitative","title":null,"scale":{"domain":[-7904.4,25919.1],"nice":false,"zero":false},"axis":{"values":[0,5000,10000,15000,20000,25000],"tickCount":50,"offset":-55}},"y2":{"datum":0},"color":{"field":"c","type":"nominal","scale":{"domain":["R","G","B"],"range":["#e01818","#26d826","#1432ee"]},"legend":{"orient":"none","legendX":68,"legendY":6,"title":null,"labelExpr":"(datum.label=='R'?'RED CHANNEL':datum.label=='G'?'GREEN CHANNEL':'BLUE CHANNEL')+'\u2800\u2800\u2800\u2800\u2800\u2800\u2800\u2800\u2800\u2800\u2800\u2800'"}}}},
  {"transform":[{"filter":"datum.t=='c'"}],"mark":{"type":"rule","strokeWidth":1.6},"encoding":{"x":{"field":"x","type":"quantitative","title":null},"y":{"field":"y","type":"quantitative","title":null},"y2":{"datum":0},"stroke":{"field":"c","type":"nominal","scale":{"domain":["R","G","B","K"],"range":["#b43c3c","#5cc85c","#8c9ccc","#8a8a8a"]},"legend":null}}},
  {"transform":[{"filter":"datum.t=='a'&&datum.c=='G'"}],"mark":"area","encoding":{"x":{"field":"x","type":"quantitative","title":null},"y":{"field":"y","type":"quantitative","title":null},"y2":{"datum":0},"color":{"field":"c","type":"nominal","legend":null}}},
  {"transform":[{"filter":"datum.t=='a'&&datum.c=='B'"}],"mark":"area","encoding":{"x":{"field":"x","type":"quantitative","title":null},"y":{"field":"y","type":"quantitative","title":null},"y2":{"datum":0},"color":{"field":"c","type":"nominal","legend":null}}},
  {"transform":[{"filter":"datum.t=='s'"}],"mark":{"type":"rule","strokeWidth":1},"encoding":{"x":{"field":"x","type":"quantitative","title":null},"y":{"field":"y","type":"quantitative","title":null},"y2":{"datum":0},"stroke":{"field":"c","type":"nominal","scale":{"domain":["R","G","B","K"],"range":["#b43c3c","#5cc85c","#8c9ccc","#8a8a8a"]},"legend":null}}},
  {"data":{"values":[{}]},"mark":{"type":"rect","fill":"transparent","stroke":"#777777","strokeWidth":0.8},"encoding":{"x":{"datum":0},"x2":{"datum":300},"y":{"datum":0},"y2":{"datum":25000}}}
 ]},
 {"width":265,"height":184,"data":{"name":"r3c3"},"layer":[
  {"transform":[{"filter":"datum.t=='a'&&datum.c=='R'"}],"mark":"area","encoding":{"x":{"field":"x","type":"quantitative","title":null,"scale":{"domain":[-92.82,346.41],"nice":false,"zero":false},"axis":{"values":[0,100,200,300],"offset":-42}},"y":{"field":"y","type":"quantitative","title":null,"scale":{"domain":[-21459.9,72554.7],"nice":false,"zero":false},"axis":{"values":[0,10000,20000,30000,40000,50000,60000,70000],"tickCount":50,"offset":-56}},"y2":{"datum":0},"color":{"field":"c","type":"nominal","scale":{"domain":["R","G","B"],"range":["#e01818","#26d826","#1432ee"]},"legend":{"orient":"none","legendX":68,"legendY":6,"title":null,"labelExpr":"(datum.label=='R'?'RED CHANNEL':datum.label=='G'?'GREEN CHANNEL':'BLUE CHANNEL')+'\u2800\u2800\u2800\u2800\u2800\u2800\u2800\u2800\u2800'"}}}},
  {"transform":[{"filter":"datum.t=='a'&&datum.c=='G'"}],"mark":"area","encoding":{"x":{"field":"x","type":"quantitative","title":null},"y":{"field":"y","type":"quantitative","title":null},"y2":{"datum":0},"color":{"field":"c","type":"nominal","legend":null}}},
  {"transform":[{"filter":"datum.t=='a'&&datum.c=='B'"}],"mark":"area","encoding":{"x":{"field":"x","type":"quantitative","title":null},"y":{"field":"y","type":"quantitative","title":null},"y2":{"datum":0},"color":{"field":"c","type":"nominal","legend":null}}},
  {"transform":[{"filter":"datum.t=='s'"}],"mark":{"type":"rule","strokeWidth":1},"encoding":{"x":{"field":"x","type":"quantitative","title":null},"y":{"field":"y","type":"quantitative","title":null},"y2":{"datum":0},"stroke":{"field":"c","type":"nominal","scale":{"domain":["R","G","B","K"],"range":["#b43c3c","#5cc85c","#8c9ccc","#8a8a8a"]},"legend":null}}},
  {"data":{"values":[{}]},"mark":{"type":"rect","fill":"transparent","stroke":"#777777","strokeWidth":0.8},"encoding":{"x":{"datum":0},"x2":{"datum":300},"y":{"datum":0},"y2":{"datum":70000}}}
 ]},
 {"width":285,"height":184,"data":{"name":"r3c4"},"layer":[
  {"transform":[{"filter":"datum.t=='a'&&datum.c=='R'"}],"mark":"area","encoding":{"x":{"field":"x","type":"quantitative","title":null,"scale":{"domain":[-46.93,430.73],"nice":false,"zero":false},"axis":{"values":[0,100,200,300],"offset":-45}},"y":{"field":"y","type":"quantitative","title":null,"scale":{"domain":[-0.6716,2.0746],"nice":false,"zero":false},"axis":{"values":[0,0.2,0.4,0.6,0.8,1,1.2,1.4,1.6,1.8,2],"tickCount":50,"tickMinStep":0.01,"offset":-28,"labelExpr":"format(datum.value,'.1~f')"}},"y2":{"datum":0},"color":{"field":"c","type":"nominal","scale":{"domain":["R","G","B"],"range":["#e01818","#26d826","#1432ee"]},"legend":{"orient":"none","legendX":41,"legendY":6,"title":null,"labelExpr":"(datum.label=='R'?'RED CHANNEL':datum.label=='G'?'GREEN CHANNEL':'BLUE CHANNEL')+'\u2800\u2800\u2800\u2800\u2800\u2800\u2800'"}}}},
  {"transform":[{"filter":"datum.t=='a'&&datum.c=='G'"}],"mark":"area","encoding":{"x":{"field":"x","type":"quantitative","title":null},"y":{"field":"y","type":"quantitative","title":null},"y2":{"datum":0},"color":{"field":"c","type":"nominal","legend":null}}},
  {"transform":[{"filter":"datum.t=='a'&&datum.c=='B'"}],"mark":"area","encoding":{"x":{"field":"x","type":"quantitative","title":null},"y":{"field":"y","type":"quantitative","title":null},"y2":{"datum":0},"color":{"field":"c","type":"nominal","legend":null}}},
  {"transform":[{"filter":"datum.t=='s'"}],"mark":{"type":"rule","strokeWidth":1},"encoding":{"x":{"field":"x","type":"quantitative","title":null},"y":{"field":"y","type":"quantitative","title":null},"y2":{"datum":0},"stroke":{"field":"c","type":"nominal","scale":{"domain":["R","G","B","K"],"range":["#b43c3c","#5cc85c","#8c9ccc","#8a8a8a"]},"legend":null}}},
  {"data":{"values":[{}]},"mark":{"type":"rect","fill":"transparent","stroke":"#777777","strokeWidth":0.8},"encoding":{"x":{"datum":0},"x2":{"datum":300},"y":{"datum":0},"y2":{"datum":2}}}
 ]},

 {"width":155,"height":200,"data":{"values":[{"t":"Satellite"}]},"mark":{"type":"text","font":"Liberation Serif","fontSize":26,"align":"left","baseline":"alphabetic","dx":16,"dy":25,"color":"black"},"encoding":{"text":{"field":"t"},"x":{"datum":0,"type":"quantitative","scale":{"domain":[0,1]},"axis":null},"y":{"datum":1,"type":"quantitative","scale":{"domain":[0,1]},"axis":null}}},
 {"width":289,"height":200,"data":{"name":"r4c1"},"layer":[
  {"transform":[{"filter":"datum.t=='a'&&datum.c=='R'"}],"mark":"area","encoding":{"x":{"field":"x","type":"quantitative","title":null,"scale":{"domain":[-82.73,364.18],"nice":false,"zero":false},"axis":{"values":[0,100,200,300],"offset":-55}},"y":{"field":"y","type":"quantitative","title":null,"scale":{"domain":[-54610,143971.6],"nice":false,"zero":false},"axis":{"values":[0,20000,40000,60000,80000,100000,120000,140000],"tickCount":50,"offset":-53.5}},"y2":{"datum":0},"color":{"field":"c","type":"nominal","scale":{"domain":["R","G","B"],"range":["#e01818","#26d826","#1432ee"]},"legend":{"orient":"none","legendX":64,"legendY":5,"title":null,"labelExpr":"(datum.label=='R'?'RED CHANNEL':datum.label=='G'?'GREEN CHANNEL':'BLUE CHANNEL')+'\u2800\u2800\u2800\u2800\u2800\u2800\u2800\u2800\u2800\u2800\u2800\u2800'"}}}},
  {"transform":[{"filter":"datum.t=='a'&&datum.c=='G'"}],"mark":"area","encoding":{"x":{"field":"x","type":"quantitative","title":null},"y":{"field":"y","type":"quantitative","title":null},"y2":{"datum":0},"color":{"field":"c","type":"nominal","legend":null}}},
  {"transform":[{"filter":"datum.t=='a'&&datum.c=='B'"}],"mark":"area","encoding":{"x":{"field":"x","type":"quantitative","title":null},"y":{"field":"y","type":"quantitative","title":null},"y2":{"datum":0},"color":{"field":"c","type":"nominal","legend":null}}},
  {"transform":[{"filter":"datum.t=='s'"}],"mark":{"type":"rule","strokeWidth":1},"encoding":{"x":{"field":"x","type":"quantitative","title":null},"y":{"field":"y","type":"quantitative","title":null},"y2":{"datum":0},"stroke":{"field":"c","type":"nominal","scale":{"domain":["R","G","B","K"],"range":["#b43c3c","#5cc85c","#8c9ccc","#8a8a8a"]},"legend":null}}},
  {"data":{"values":[{}]},"mark":{"type":"rect","fill":"transparent","stroke":"#777777","strokeWidth":0.8},"encoding":{"x":{"datum":0},"x2":{"datum":300},"y":{"datum":0},"y2":{"datum":140000}}}
 ]},
 {"width":284,"height":200,"data":{"name":"r4c2"},"layer":[
  {"transform":[{"filter":"datum.t=='a'&&datum.c=='R'"}],"mark":"area","encoding":{"x":{"field":"x","type":"quantitative","title":null,"scale":{"domain":[-84.62,352.31],"nice":false,"zero":false},"axis":{"values":[0,100,200,300],"offset":-45}},"y":{"field":"y","type":"quantitative","title":null,"scale":{"domain":[-41722,143708.6],"nice":false,"zero":false},"axis":{"values":[0,20000,40000,60000,80000,100000,120000,140000],"tickCount":50,"offset":-55}},"y2":{"datum":0},"color":{"field":"c","type":"nominal","scale":{"domain":["R","G","B"],"range":["#e01818","#26d826","#1432ee"]},"legend":{"orient":"none","legendX":68,"legendY":5,"title":null,"labelExpr":"(datum.label=='R'?'RED CHANNEL':datum.label=='G'?'GREEN CHANNEL':'BLUE CHANNEL')+'\u2800\u2800\u2800\u2800\u2800\u2800\u2800\u2800\u2800\u2800\u2800\u2800'"}}}},
  {"transform":[{"filter":"datum.t=='c'"}],"mark":{"type":"rule","strokeWidth":1.6},"encoding":{"x":{"field":"x","type":"quantitative","title":null},"y":{"field":"y","type":"quantitative","title":null},"y2":{"datum":0},"stroke":{"field":"c","type":"nominal","scale":{"domain":["R","G","B","K"],"range":["#b43c3c","#5cc85c","#8c9ccc","#8a8a8a"]},"legend":null}}},
  {"transform":[{"filter":"datum.t=='a'&&datum.c=='G'"}],"mark":"area","encoding":{"x":{"field":"x","type":"quantitative","title":null},"y":{"field":"y","type":"quantitative","title":null},"y2":{"datum":0},"color":{"field":"c","type":"nominal","legend":null}}},
  {"transform":[{"filter":"datum.t=='a'&&datum.c=='B'"}],"mark":"area","encoding":{"x":{"field":"x","type":"quantitative","title":null},"y":{"field":"y","type":"quantitative","title":null},"y2":{"datum":0},"color":{"field":"c","type":"nominal","legend":null}}},
  {"transform":[{"filter":"datum.t=='s'"}],"mark":{"type":"rule","strokeWidth":1},"encoding":{"x":{"field":"x","type":"quantitative","title":null},"y":{"field":"y","type":"quantitative","title":null},"y2":{"datum":0},"stroke":{"field":"c","type":"nominal","scale":{"domain":["R","G","B","K"],"range":["#b43c3c","#5cc85c","#8c9ccc","#8a8a8a"]},"legend":null}}},
  {"data":{"values":[{}]},"mark":{"type":"rect","fill":"transparent","stroke":"#777777","strokeWidth":0.8},"encoding":{"x":{"datum":0},"x2":{"datum":300},"y":{"datum":0},"y2":{"datum":140000}}}
 ]},
 {"width":265,"height":200,"data":{"name":"r4c3"},"layer":[
  {"transform":[{"filter":"datum.t=='a'&&datum.c=='R'"}],"mark":"area","encoding":{"x":{"field":"x","type":"quantitative","title":null,"scale":{"domain":[-92.82,346.41],"nice":false,"zero":false},"axis":{"values":[0,100,200,300],"offset":-45}},"y":{"field":"y","type":"quantitative","title":null,"scale":{"domain":[-4768.2,16423.8],"nice":false,"zero":false},"axis":{"values":[0,2000,4000,6000,8000,10000,12000,14000,16000],"tickCount":50,"offset":-56}},"y2":{"datum":0},"color":{"field":"c","type":"nominal","scale":{"domain":["R","G","B"],"range":["#e01818","#26d826","#1432ee"]},"legend":{"orient":"none","legendX":68,"legendY":5,"title":null,"labelExpr":"(datum.label=='R'?'RED CHANNEL':datum.label=='G'?'GREEN CHANNEL':'BLUE CHANNEL')+'\u2800\u2800\u2800\u2800\u2800\u2800\u2800\u2800\u2800'"}}}},
  {"transform":[{"filter":"datum.t=='a'&&datum.c=='G'"}],"mark":"area","encoding":{"x":{"field":"x","type":"quantitative","title":null},"y":{"field":"y","type":"quantitative","title":null},"y2":{"datum":0},"color":{"field":"c","type":"nominal","legend":null}}},
  {"transform":[{"filter":"datum.t=='a'&&datum.c=='B'"}],"mark":"area","encoding":{"x":{"field":"x","type":"quantitative","title":null},"y":{"field":"y","type":"quantitative","title":null},"y2":{"datum":0},"color":{"field":"c","type":"nominal","legend":null}}},
  {"transform":[{"filter":"datum.t=='s'"}],"mark":{"type":"rule","strokeWidth":1},"encoding":{"x":{"field":"x","type":"quantitative","title":null},"y":{"field":"y","type":"quantitative","title":null},"y2":{"datum":0},"stroke":{"field":"c","type":"nominal","scale":{"domain":["R","G","B","K"],"range":["#b43c3c","#5cc85c","#8c9ccc","#8a8a8a"]},"legend":null}}},
  {"data":{"values":[{}]},"mark":{"type":"rect","fill":"transparent","stroke":"#777777","strokeWidth":0.8},"encoding":{"x":{"datum":0},"x2":{"datum":300},"y":{"datum":0},"y2":{"datum":16000}}}
 ]},
 {"width":285,"height":200,"data":{"name":"r4c4"},"layer":[
  {"transform":[{"filter":"datum.t=='a'&&datum.c=='R'"}],"mark":"area","encoding":{"x":{"field":"x","type":"quantitative","title":null,"scale":{"domain":[-46.93,430.73],"nice":false,"zero":false},"axis":{"values":[0,100,200,300],"offset":-56}},"y":{"field":"y","type":"quantitative","title":null,"scale":{"domain":[-3.2,8.22857],"nice":false,"zero":false},"axis":{"values":[0,1,2,3,4,5,6,7,8],"tickCount":50,"offset":-28}},"y2":{"datum":0},"color":{"field":"c","type":"nominal","scale":{"domain":["R","G","B"],"range":["#e01818","#26d826","#1432ee"]},"legend":{"orient":"none","legendX":41,"legendY":5,"title":null,"labelExpr":"(datum.label=='R'?'RED CHANNEL':datum.label=='G'?'GREEN CHANNEL':'BLUE CHANNEL')+'\u2800\u2800\u2800\u2800\u2800\u2800\u2800'"}}}},
  {"transform":[{"filter":"datum.t=='a'&&datum.c=='G'"}],"mark":"area","encoding":{"x":{"field":"x","type":"quantitative","title":null},"y":{"field":"y","type":"quantitative","title":null},"y2":{"datum":0},"color":{"field":"c","type":"nominal","legend":null}}},
  {"transform":[{"filter":"datum.t=='a'&&datum.c=='B'"}],"mark":"area","encoding":{"x":{"field":"x","type":"quantitative","title":null},"y":{"field":"y","type":"quantitative","title":null},"y2":{"datum":0},"color":{"field":"c","type":"nominal","legend":null}}},
  {"transform":[{"filter":"datum.t=='s'"}],"mark":{"type":"rule","strokeWidth":1},"encoding":{"x":{"field":"x","type":"quantitative","title":null},"y":{"field":"y","type":"quantitative","title":null},"y2":{"datum":0},"stroke":{"field":"c","type":"nominal","scale":{"domain":["R","G","B","K"],"range":["#b43c3c","#5cc85c","#8c9ccc","#8a8a8a"]},"legend":null}}},
  {"data":{"values":[{}]},"mark":{"type":"rect","fill":"transparent","stroke":"#777777","strokeWidth":0.8},"encoding":{"x":{"datum":0},"x2":{"datum":300},"y":{"datum":0},"y2":{"datum":8}}}
 ]}
],
"columns":5,
"align":"each",
"spacing":0,
"bounds":"flush",
"resolve":{"scale":{"color":"independent","stroke":"independent"},"legend":{"color":"independent"}}
}
